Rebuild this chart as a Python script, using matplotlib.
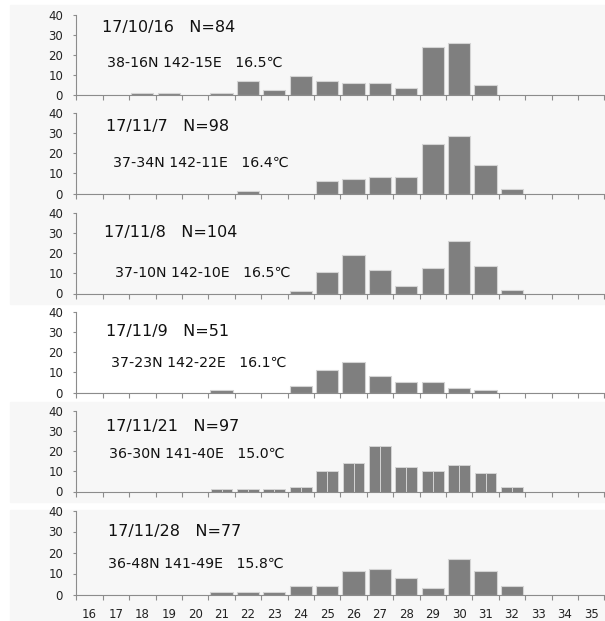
import matplotlib.pyplot as plt
from matplotlib.patches import Rectangle

# size classes (x axis)
sizes = list(range(16, 36))

# one list per sampling date, value per size class 16..35
v1 = [0, 0, 1.2, 1.2, 0, 1.2, 7.1, 2.4, 9.5, 7.1, 6.0, 6.0, 3.6, 23.8, 26.2, 4.8, 0, 0, 0, 0]
v2 = [0, 0, 0, 0, 0, 0, 1.0, 0, 0, 6.1, 7.1, 8.2, 8.2, 24.5, 28.6, 14.3, 2.0, 0, 0, 0]
v3 = [0, 0, 0, 0, 0, 0, 0, 0, 1.0, 10.6, 19.2, 11.5, 3.8, 12.5, 26.0, 13.5, 1.9, 0, 0, 0]
v4 = [0, 0, 0, 0, 0, 1, 0, 0, 3, 11, 15, 8, 5, 5, 2, 1, 0, 0, 0, 0]
v5 = [0, 0, 0, 0, 0, 1.0, 1.0, 1.0, 2.1, 10.3, 14.4, 22.7, 12.4, 10.3, 13.4, 9.3, 2.1, 0, 0, 0]
v6 = [0, 0, 0, 0, 0, 1, 1, 1, 4, 4, 11, 12, 8, 3, 17, 11, 4, 0, 0, 0]

titles = ['17/10/16   N=84', '17/11/7   N=98', '17/11/8   N=104',
          '17/11/9   N=51', '17/11/21   N=97', '17/11/28   N=77']
places = ['38-16N 142-15E   16.5\u2103', '37-34N 142-11E   16.4\u2103',
          '37-10N 142-10E   16.5\u2103', '37-23N 142-22E   16.1\u2103',
          '36-30N 141-40E   15.0\u2103', '36-48N 141-49E   15.8\u2103']
values = [v1, v2, v3, v4, v5, v6]

W, H = 605, 621
fig = plt.figure(figsize=(W / 100, H / 100), dpi=100)

# panel backgrounds (pixel rows: top, bottom)
bg = '#f7f7f7'
for top, bot in [(5, 304), (402, 502), (510, 621)]:
    fig.patches.append(Rectangle((10 / W, 1 - bot / H), 1, (bot - top) / H,
                                 transform=fig.transFigure, color=bg, zorder=-10))

# pixel rows of the 40 line and 0 line of each panel
rows = [(15, 95), (113, 193.5), (213, 293.5), (312, 392.5), (411, 491.5), (510.5, 594.5)]
# text positions (x in category units, y in data units)
t1 = [(0.47, 33.7), (0.63, 33.3), (0.55, 30.4), (0.63, 30.5), (0.63, 32.2), (0.70, 30.2)]
t2 = [(0.66, 16.2), (0.89, 15.0), (0.97, 10.4), (0.81, 14.8), (0.74, 18.5), (0.70, 14.4)]

axcol = '#8c8c8c'
x0, x1 = 76.3, 604.3
xs = list(range(len(sizes)))

for i in range(6):
    y40, y0 = rows[i]
    ax = fig.add_axes([x0 / W, 1 - y0 / H, (x1 - x0) / W, (y0 - y40) / H])
    ax.patch.set_alpha(0)
    if i == 4:
        # this panel is drawn as two halves per bar
        ax.bar([x - 0.205 for x in xs], values[i], width=0.41, color='#7f7f7f',
               edgecolor='#d4d4d4', linewidth=0.7)
        ax.bar([x + 0.205 for x in xs], values[i], width=0.41, color='#7f7f7f',
               edgecolor='#d4d4d4', linewidth=0.7)
    else:
        ax.bar(xs, values[i], width=0.84, color='#7f7f7f',
               edgecolor='#d4d4d4', linewidth=0.8)
    ax.set_xlim(-0.5, len(sizes) - 0.5)
    ax.set_ylim(0, 40)
    ax.set_yticks([0, 10, 20, 30, 40])
    ax.set_xticks(xs)
    ax.set_xticks([x - 0.5 for x in xs] + [len(sizes) - 0.5], minor=True)
    if i == 5:
        ax.set_xticklabels([str(s) for s in sizes])
    else:
        ax.set_xticklabels([])
    ax.tick_params(axis='x', which='major', length=0, pad=9.5, labelsize=8.5, labelcolor='#222222')
    ax.tick_params(axis='x', which='minor', length=3.3, color=axcol, width=0.8)
    ax.tick_params(axis='y', length=2.5, color=axcol, width=0.8, labelsize=8.5,
                   labelcolor='#222222', pad=7)
    for s in ['top', 'right']:
        ax.spines[s].set_visible(False)
    for s in ['left', 'bottom']:
        ax.spines[s].set_color(axcol)
        ax.spines[s].set_linewidth(0.8)
    ax.text(t1[i][0], t1[i][1], titles[i], fontsize=11.5, va='center', ha='left', color='#111111')
    ax.text(t2[i][0], t2[i][1], places[i], fontsize=10.2, va='center', ha='left', color='#111111')

fig.savefig('out.png', dpi=100)
